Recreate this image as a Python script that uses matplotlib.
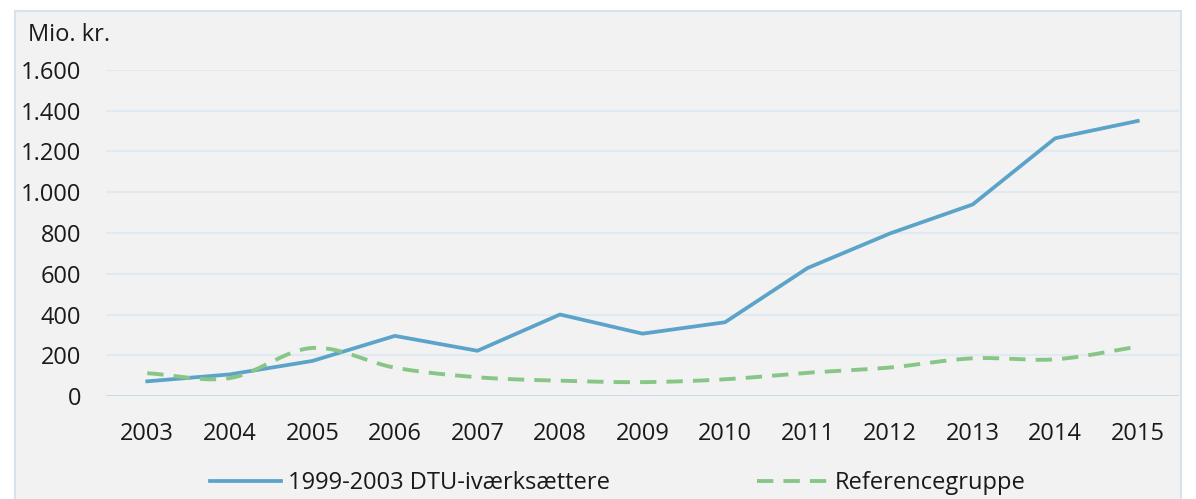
import matplotlib
matplotlib.use("Agg")
import matplotlib.pyplot as plt
import matplotlib.patches as patches
import numpy as np

years = ["2003", "2004", "2005", "2006", "2007", "2008", "2009",
         "2010", "2011", "2012", "2013", "2014", "2015"]
dtu = [72, 106, 172, 295, 222, 400, 306, 362, 628, 798, 940, 1265, 1350]
ref = [112, 88, 236, 139, 92, 75, 68, 82, 114, 140, 185, 180, 242]
yticks = [0, 200, 400, 600, 800, 1000, 1200, 1400, 1600]
ylabels = ["0", "200", "400", "600", "800", "1.000", "1.200", "1.400", "1.600"]

plt.rcParams['font.family'] = ['Open Sans', 'DejaVu Sans']


def smooth(x, y, n=20):
    # Catmull-Rom curve through the points, like Excel's smoothed line
    x = np.asarray(x, float)
    y = np.asarray(y, float)
    px = np.concatenate([[2 * x[0] - x[1]], x, [2 * x[-1] - x[-2]]])
    py = np.concatenate([[2 * y[0] - y[1]], y, [2 * y[-1] - y[-2]]])
    xs, ys = [], []
    t = np.linspace(0, 1, n)
    for i in range(1, len(px) - 2):
        for p, out in ((px, xs), (py, ys)):
            p0, p1, p2, p3 = p[i - 1], p[i], p[i + 1], p[i + 2]
            out.extend(0.5 * (2 * p1 + (-p0 + p2) * t
                              + (2 * p0 - 5 * p1 + 4 * p2 - p3) * t ** 2
                              + (-p0 + 3 * p1 - 3 * p2 + p3) * t ** 3))
    return xs, ys


fig = plt.figure(figsize=(11.96, 4.99), dpi=100)
fig.patch.set_facecolor('white')

panel = patches.Rectangle((15 / 1196, -0.05), 1166 / 1196, 1 - 11 / 499 + 0.05,
                          transform=fig.transFigure, facecolor='#f2f2f2',
                          edgecolor='#d5e3ed', linewidth=1.5, zorder=-5)
fig.patches.append(panel)

ax = fig.add_axes([106 / 1196, 1 - 396 / 499, (1179 - 106) / 1196, (396 - 70) / 499])
ax.set_facecolor('none')
ax.set_zorder(2)

x = np.arange(len(years))
ax.plot(x, dtu, color='#5ba3c9', linewidth=2.7, solid_joinstyle='round',
        label='1999-2003 DTU-iværksættere', zorder=3)
sx, sy = smooth(x, ref)
ax.plot(sx, sy, color='#88c687', linewidth=2.8, linestyle=(0, (4.2, 2.6)),
        label='Referencegruppe', zorder=3)

ax.set_xlim(-0.5, len(years) - 0.5)
ax.set_ylim(0, 1600)
ax.set_yticks(yticks)
ax.set_yticklabels(ylabels)
ax.set_xticks(x)
ax.set_xticklabels(years)
for yv in yticks[1:]:
    ax.axhline(yv, color='#dfeaf3', linewidth=1.5, zorder=1)
ax.axhline(0, color='#c9dce9', linewidth=1.5, zorder=1)

for s in ax.spines.values():
    s.set_visible(False)
ax.tick_params(axis='both', length=0, labelsize=17, colors='#1a1a1a')
ax.tick_params(axis='y', pad=18)
ax.tick_params(axis='x', pad=19)

fig.text(28 / 1196, 1 - 35 / 499, 'Mio. kr.', fontsize=17, color='#1a1a1a',
         va='center', ha='left')

leg = fig.legend(loc='center', bbox_to_anchor=(618 / 1196, 1 - 483 / 499), ncol=2,
                 frameon=False, fontsize=17, handlelength=3.0, handletextpad=0.3,
                 columnspacing=6.2)
for t in leg.get_texts():
    t.set_color('#1a1a1a')

fig.savefig('out.png', dpi=100)
